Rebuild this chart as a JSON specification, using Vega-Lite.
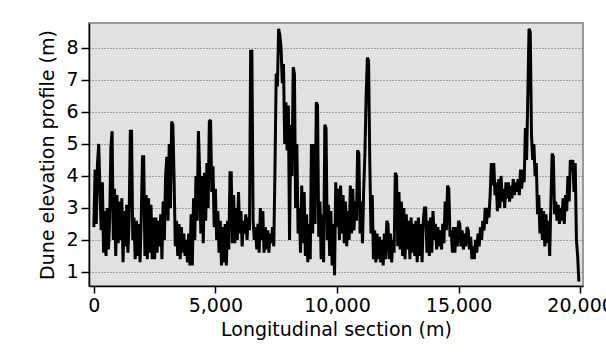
{
  "$schema": "https://vega.github.io/schema/vega-lite/v6.json",
  "width": 494,
  "height": 263,
  "autosize": {"type": "none"},
  "padding": {"left": 89, "top": 23, "right": 23, "bottom": 78},
  "background": "white",
  "config": {
    "font": "DejaVu Sans",
    "view": {"fill": "#e1e1e1", "stroke": "#9a9a9a", "strokeWidth": 2},
    "axis": {
      "domainColor": "black",
      "domainWidth": 1.5,
      "tickColor": "black",
      "tickWidth": 1.5,
      "labelColor": "black",
      "titleColor": "black",
      "labelFontSize": 19,
      "titleFontSize": 19,
      "titleFontWeight": "normal",
      "labelFont": "DejaVu Sans",
      "titleFont": "DejaVu Sans"
    }
  },
  "data": {"values": [
    {"x":0,"y":2.4},{"x":50,"y":4.2},{"x":100,"y":2.5},{"x":150,"y":4.4},{"x":200,"y":5.0},{"x":250,"y":3.6},{"x":300,"y":2.3},{"x":350,"y":3.8},{"x":400,"y":1.6},{"x":450,"y":2.9},
    {"x":500,"y":1.5},{"x":550,"y":3.0},{"x":600,"y":1.7},{"x":650,"y":2.6},{"x":700,"y":4.9},{"x":750,"y":5.4},{"x":800,"y":2.0},{"x":850,"y":3.6},{"x":900,"y":1.5},{"x":950,"y":3.4},
    {"x":1000,"y":1.9},{"x":1050,"y":3.2},{"x":1100,"y":2.0},{"x":1150,"y":3.3},{"x":1200,"y":1.3},{"x":1250,"y":2.9},{"x":1300,"y":1.8},{"x":1350,"y":3.1},{"x":1400,"y":1.6},{"x":1450,"y":2.6},
    {"x":1500,"y":5.4},{"x":1550,"y":5.4},{"x":1600,"y":2.0},{"x":1650,"y":2.7},{"x":1700,"y":1.4},{"x":1750,"y":2.6},{"x":1800,"y":1.5},{"x":1850,"y":2.5},{"x":1900,"y":1.3},{"x":1950,"y":2.7},
    {"x":2000,"y":4.6},{"x":2050,"y":4.6},{"x":2100,"y":1.5},{"x":2150,"y":3.4},{"x":2200,"y":1.4},{"x":2250,"y":3.3},{"x":2300,"y":1.6},{"x":2350,"y":3.1},{"x":2400,"y":1.4},{"x":2450,"y":2.7},
    {"x":2500,"y":1.4},{"x":2550,"y":2.7},{"x":2600,"y":1.6},{"x":2650,"y":2.6},{"x":2700,"y":1.8},{"x":2750,"y":2.8},{"x":2800,"y":1.4},{"x":2850,"y":3.2},{"x":2900,"y":2.0},{"x":2950,"y":4.0},
    {"x":3000,"y":4.6},{"x":3050,"y":2.6},{"x":3100,"y":5.0},{"x":3150,"y":3.0},{"x":3200,"y":5.7},{"x":3250,"y":5.6},{"x":3300,"y":3.9},{"x":3350,"y":1.8},{"x":3400,"y":2.6},{"x":3450,"y":1.5},
    {"x":3500,"y":2.5},{"x":3550,"y":1.4},{"x":3600,"y":2.4},{"x":3650,"y":1.6},{"x":3700,"y":2.2},{"x":3750,"y":1.5},{"x":3800,"y":2.0},{"x":3850,"y":1.3},{"x":3900,"y":2.2},{"x":3950,"y":1.2},
    {"x":4000,"y":2.8},{"x":4050,"y":1.2},{"x":4100,"y":3.3},{"x":4150,"y":2.0},{"x":4200,"y":4.0},{"x":4250,"y":2.6},{"x":4300,"y":5.4},{"x":4350,"y":4.2},{"x":4400,"y":2.2},{"x":4450,"y":4.0},
    {"x":4500,"y":1.9},{"x":4550,"y":4.1},{"x":4600,"y":2.6},{"x":4650,"y":4.4},{"x":4700,"y":3.0},{"x":4750,"y":5.7},{"x":4800,"y":5.75},{"x":4850,"y":3.5},{"x":4900,"y":4.3},{"x":4950,"y":2.4},
    {"x":5000,"y":3.6},{"x":5050,"y":2.0},{"x":5100,"y":2.9},{"x":5150,"y":1.6},{"x":5200,"y":2.6},{"x":5250,"y":1.2},{"x":5300,"y":2.4},{"x":5350,"y":1.3},{"x":5400,"y":2.5},{"x":5450,"y":1.2},
    {"x":5500,"y":2.6},{"x":5550,"y":1.7},{"x":5600,"y":4.1},{"x":5650,"y":4.1},{"x":5700,"y":1.9},{"x":5750,"y":3.4},{"x":5800,"y":1.9},{"x":5850,"y":3.0},{"x":5900,"y":2.0},{"x":5950,"y":3.5},
    {"x":6000,"y":2.2},{"x":6050,"y":2.9},{"x":6100,"y":1.8},{"x":6150,"y":2.6},{"x":6200,"y":2.2},{"x":6250,"y":2.8},{"x":6300,"y":2.0},{"x":6350,"y":2.7},{"x":6400,"y":2.3},{"x":6450,"y":7.9},
    {"x":6500,"y":7.9},{"x":6550,"y":2.6},{"x":6600,"y":2.0},{"x":6650,"y":2.4},{"x":6700,"y":1.7},{"x":6750,"y":2.5},{"x":6800,"y":1.6},{"x":6850,"y":3.0},{"x":6900,"y":2.0},{"x":6950,"y":2.9},
    {"x":7000,"y":1.6},{"x":7050,"y":2.4},{"x":7100,"y":1.7},{"x":7150,"y":2.3},{"x":7200,"y":1.6},{"x":7250,"y":2.2},{"x":7300,"y":1.9},{"x":7350,"y":2.4},{"x":7400,"y":1.8},{"x":7450,"y":4.2},
    {"x":7500,"y":7.2},{"x":7550,"y":6.8},{"x":7600,"y":8.6},{"x":7650,"y":8.4},{"x":7700,"y":8.0},{"x":7750,"y":6.9},{"x":7800,"y":7.5},{"x":7850,"y":5.0},{"x":7900,"y":6.3},{"x":7950,"y":4.8},
    {"x":8000,"y":6.2},{"x":8050,"y":2.0},{"x":8100,"y":5.6},{"x":8150,"y":4.0},{"x":8200,"y":7.4},{"x":8250,"y":7.2},{"x":8300,"y":3.0},{"x":8350,"y":5.0},{"x":8400,"y":2.2},{"x":8450,"y":3.0},
    {"x":8500,"y":1.6},{"x":8550,"y":3.7},{"x":8600,"y":1.9},{"x":8650,"y":3.5},{"x":8700,"y":1.5},{"x":8750,"y":2.8},{"x":8800,"y":1.3},{"x":8850,"y":2.5},{"x":8900,"y":1.4},{"x":8950,"y":5.0},
    {"x":9000,"y":2.2},{"x":9050,"y":5.0},{"x":9100,"y":2.5},{"x":9150,"y":6.3},{"x":9200,"y":6.2},{"x":9250,"y":2.1},{"x":9300,"y":3.2},{"x":9350,"y":1.4},{"x":9400,"y":2.8},{"x":9450,"y":1.3},
    {"x":9500,"y":5.6},{"x":9550,"y":5.5},{"x":9600,"y":2.0},{"x":9650,"y":3.1},{"x":9700,"y":1.5},{"x":9750,"y":2.9},{"x":9800,"y":1.2},{"x":9850,"y":2.5},{"x":9900,"y":0.9},{"x":9950,"y":3.8},
    {"x":10000,"y":2.4},{"x":10050,"y":3.6},{"x":10100,"y":2.0},{"x":10150,"y":3.7},{"x":10200,"y":2.2},{"x":10250,"y":3.4},{"x":10300,"y":1.9},{"x":10350,"y":3.2},{"x":10400,"y":1.8},{"x":10450,"y":2.9},
    {"x":10500,"y":2.0},{"x":10550,"y":3.7},{"x":10600,"y":2.2},{"x":10650,"y":3.6},{"x":10700,"y":2.3},{"x":10750,"y":3.2},{"x":10800,"y":2.6},{"x":10850,"y":4.8},{"x":10900,"y":4.7},{"x":10950,"y":2.2},
    {"x":11000,"y":3.2},{"x":11050,"y":1.9},{"x":11100,"y":3.6},{"x":11150,"y":4.7},{"x":11200,"y":6.5},{"x":11250,"y":7.7},{"x":11300,"y":7.6},{"x":11350,"y":4.4},{"x":11400,"y":2.2},{"x":11450,"y":3.4},
    {"x":11500,"y":1.4},{"x":11550,"y":2.3},{"x":11600,"y":1.3},{"x":11650,"y":2.2},{"x":11700,"y":1.4},{"x":11750,"y":2.1},{"x":11800,"y":1.3},{"x":11850,"y":2.0},{"x":11900,"y":1.2},{"x":11950,"y":2.2},
    {"x":12000,"y":1.4},{"x":12050,"y":2.6},{"x":12100,"y":2.5},{"x":12150,"y":1.4},{"x":12200,"y":2.2},{"x":12250,"y":1.3},{"x":12300,"y":2.0},{"x":12350,"y":1.6},{"x":12400,"y":4.1},{"x":12450,"y":4.0},
    {"x":12500,"y":1.8},{"x":12550,"y":3.5},{"x":12600,"y":1.7},{"x":12650,"y":3.2},{"x":12700,"y":1.5},{"x":12750,"y":3.0},{"x":12800,"y":1.4},{"x":12850,"y":2.8},{"x":12900,"y":1.7},{"x":12950,"y":2.6},
    {"x":13000,"y":1.4},{"x":13050,"y":2.7},{"x":13100,"y":1.6},{"x":13150,"y":2.5},{"x":13200,"y":1.5},{"x":13250,"y":2.6},{"x":13300,"y":1.3},{"x":13350,"y":2.7},{"x":13400,"y":1.5},{"x":13450,"y":2.5},
    {"x":13500,"y":1.3},{"x":13550,"y":2.6},{"x":13600,"y":3.0},{"x":13650,"y":3.0},{"x":13700,"y":1.6},{"x":13750,"y":2.6},{"x":13800,"y":1.5},{"x":13850,"y":2.7},{"x":13900,"y":1.6},{"x":13950,"y":2.9},
    {"x":14000,"y":2.0},{"x":14050,"y":2.5},{"x":14100,"y":1.7},{"x":14150,"y":2.4},{"x":14200,"y":1.8},{"x":14250,"y":2.3},{"x":14300,"y":1.7},{"x":14350,"y":2.5},{"x":14400,"y":1.9},{"x":14450,"y":3.2},
    {"x":14500,"y":2.3},{"x":14550,"y":3.7},{"x":14600,"y":3.6},{"x":14650,"y":2.1},{"x":14700,"y":2.3},{"x":14750,"y":1.6},{"x":14800,"y":2.4},{"x":14850,"y":1.6},{"x":14900,"y":2.4},{"x":14950,"y":1.8},
    {"x":15000,"y":2.6},{"x":15050,"y":2.5},{"x":15100,"y":1.8},{"x":15150,"y":2.3},{"x":15200,"y":1.7},{"x":15250,"y":2.2},{"x":15300,"y":1.8},{"x":15350,"y":2.4},{"x":15400,"y":2.3},{"x":15450,"y":1.7},
    {"x":15500,"y":2.1},{"x":15550,"y":1.4},{"x":15600,"y":1.8},{"x":15650,"y":1.4},{"x":15700,"y":2.0},{"x":15750,"y":1.6},{"x":15800,"y":2.2},{"x":15850,"y":1.8},{"x":15900,"y":2.4},{"x":15950,"y":2.0},
    {"x":16000,"y":2.6},{"x":16050,"y":2.3},{"x":16100,"y":3.0},{"x":16150,"y":2.5},{"x":16200,"y":3.0},{"x":16250,"y":2.7},{"x":16300,"y":3.4},{"x":16350,"y":4.4},{"x":16400,"y":3.7},{"x":16450,"y":4.4},
    {"x":16500,"y":3.4},{"x":16550,"y":3.8},{"x":16600,"y":2.9},{"x":16650,"y":3.9},{"x":16700,"y":3.0},{"x":16750,"y":4.0},{"x":16800,"y":3.2},{"x":16850,"y":3.6},{"x":16900,"y":3.0},{"x":16950,"y":3.8},
    {"x":17000,"y":3.3},{"x":17050,"y":3.8},{"x":17100,"y":3.2},{"x":17150,"y":3.7},{"x":17200,"y":3.3},{"x":17250,"y":3.9},{"x":17300,"y":3.4},{"x":17350,"y":3.8},{"x":17400,"y":3.5},{"x":17450,"y":3.9},
    {"x":17500,"y":3.4},{"x":17550,"y":4.2},{"x":17600,"y":3.6},{"x":17650,"y":4.2},{"x":17700,"y":3.8},{"x":17750,"y":5.5},{"x":17800,"y":4.5},{"x":17850,"y":6.5},{"x":17900,"y":8.6},{"x":17950,"y":8.5},
    {"x":18000,"y":5.3},{"x":18050,"y":4.5},{"x":18100,"y":5.0},{"x":18150,"y":4.0},{"x":18200,"y":4.4},{"x":18250,"y":2.8},{"x":18300,"y":3.4},{"x":18350,"y":2.2},{"x":18400,"y":3.0},{"x":18450,"y":2.0},
    {"x":18500,"y":2.9},{"x":18550,"y":1.8},{"x":18600,"y":2.8},{"x":18650,"y":1.9},{"x":18700,"y":2.6},{"x":18750,"y":1.5},{"x":18800,"y":3.2},{"x":18850,"y":4.7},{"x":18900,"y":4.6},{"x":18950,"y":2.8},
    {"x":19000,"y":3.2},{"x":19050,"y":2.6},{"x":19100,"y":3.1},{"x":19150,"y":2.5},{"x":19200,"y":3.0},{"x":19250,"y":2.6},{"x":19300,"y":3.3},{"x":19350,"y":2.5},{"x":19400,"y":3.4},{"x":19450,"y":2.9},
    {"x":19500,"y":4.0},{"x":19550,"y":3.2},{"x":19600,"y":4.5},{"x":19650,"y":4.3},{"x":19700,"y":4.5},{"x":19750,"y":3.5},{"x":19800,"y":4.4},{"x":19850,"y":2.0},{"x":19900,"y":1.5},{"x":19950,"y":0.7}
  ]},
  "mark": {"type": "line", "color": "black", "strokeWidth": 3, "strokeJoin": "miter", "strokeMiterLimit": 2, "clip": true},
  "encoding": {
    "x": {
      "field": "x", "type": "quantitative",
      "scale": {"domain": [-200, 20120], "nice": false, "zero": false},
      "axis": {
        "title": "Longitudinal section (m)",
        "values": [0, 5000, 10000, 15000, 20000],
        "format": ",d",
        "grid": false,
        "tickSize": 7,
        "labelPadding": 3,
        "titlePadding": 5,
        "labelOverlap": false,
        "labelBound": false,
        "labelFlush": false
      }
    },
    "y": {
      "field": "y", "type": "quantitative",
      "scale": {"domain": [0.56, 8.78], "nice": false, "zero": false},
      "axis": {
        "title": "Dune elevation profile (m)",
        "values": [1, 2, 3, 4, 5, 6, 7, 8],
        "grid": true,
        "gridColor": "#606060",
        "gridDash": [1, 2],
        "gridWidth": 1,
        "tickSize": 8,
        "labelPadding": 3,
        "titlePadding": 8
      }
    }
  }
}
